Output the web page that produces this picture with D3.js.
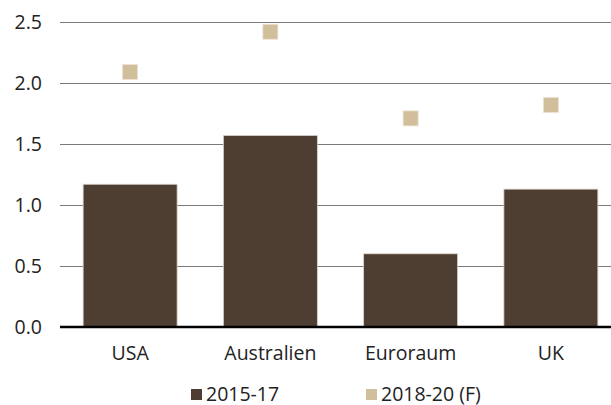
<!DOCTYPE html>
<html><head><meta charset="utf-8">
<script src="https://cdn.jsdelivr.net/npm/d3@7"></script>
<style>body{margin:0;background:#fff}svg{display:block}text{font-family:"Open Sans","Noto Sans",sans-serif;fill:#222}</style>
</head><body>
<svg id="c" width="611" height="405"></svg>
<script>
const categories = ["USA", "Australien", "Euroraum", "UK"];
const series2015 = [1.17, 1.57, 0.60, 1.13];
const series2018 = [2.09, 2.42, 1.71, 1.82];
const seriesNames = ["2015-17", "2018-20 (F)"];
const yTicks = [0, 0.5, 1.0, 1.5, 2.0, 2.5];

const FONT = '"Open Sans","Noto Sans",sans-serif';
const FS = 19.5;
const svg = d3.select("#c");
const x = d3.scaleBand().domain(categories).range([60, 621]).paddingInner(0.33).paddingOuter(0.165);
const y = d3.scaleLinear().domain([0, 2.5]).range([327, 22]);

// gridlines
svg.append("g").selectAll("line").data(yTicks.filter(d => d > 0)).join("line")
  .attr("x1", 60).attr("x2", 621).attr("y1", d => y(d)).attr("y2", d => y(d))
  .attr("stroke", "#7a7a7a").attr("stroke-width", 1).attr("shape-rendering", "crispEdges");

// y axis labels
const yAxis = d3.axisLeft(y).tickValues(yTicks).tickFormat(d3.format(".1f")).tickSize(0).tickPadding(18);
const ga = svg.append("g").attr("transform", "translate(60,0)").call(yAxis);
ga.select(".domain").remove();
ga.selectAll("text").attr("font-size", FS).attr("fill", "#222").style("font-family", FONT);

// bars
svg.append("g").selectAll("rect").data(categories).join("rect")
  .attr("x", d => x(d)).attr("width", x.bandwidth())
  .attr("y", (d, i) => y(series2015[i])).attr("height", (d, i) => y(0) - y(series2015[i]))
  .attr("fill", "#4e3d31").attr("stroke", "#d9d2cc").attr("stroke-width", 0.8);

// squares
const s = 15;
svg.append("g").selectAll("rect").data(categories).join("rect")
  .attr("x", d => x(d) + x.bandwidth() / 2 - s / 2).attr("y", (d, i) => y(series2018[i]) - s / 2)
  .attr("width", s).attr("height", s)
  .attr("fill", "#d1bf9c").attr("stroke", "#ebe3d4").attr("stroke-width", 0.8);

// zero line
svg.append("line").attr("x1", 60).attr("x2", 621).attr("y1", y(0)).attr("y2", y(0))
  .attr("stroke", "#000").attr("stroke-width", 2.5);

// x axis labels
const xAxis = d3.axisBottom(x).tickSize(0).tickPadding(19);
const gx = svg.append("g").attr("transform", `translate(0,${y(0)})`).call(xAxis);
gx.select(".domain").remove();
gx.selectAll("text").attr("font-size", FS).attr("fill", "#222").style("font-family", FONT);

// legend
const legend = [{name: seriesNames[0], color: "#4e3d31", x: 191}, {name: seriesNames[1], color: "#d1bf9c", x: 366}];
const lg = svg.append("g").selectAll("g").data(legend).join("g").attr("transform", d => `translate(${d.x},389)`);
lg.append("rect").attr("width", 11).attr("height", 11).attr("fill", d => d.color);
lg.append("text").attr("x", 15).attr("y", 11.5).attr("font-size", FS).text(d => d.name);
</script>
</body></html>
